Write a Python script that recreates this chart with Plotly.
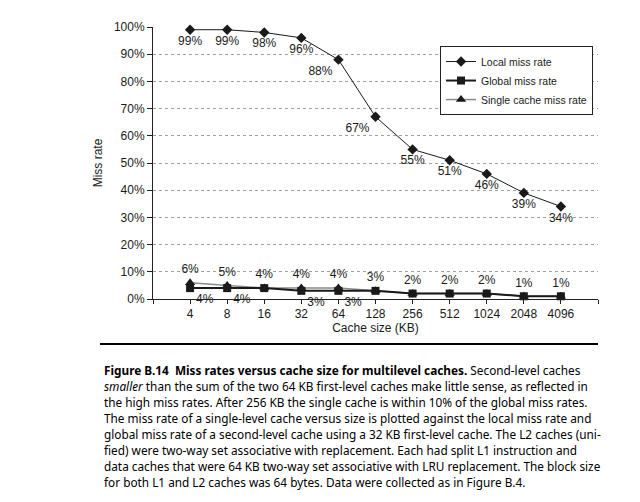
import plotly.graph_objects as go

cache_sizes = ["4", "8", "16", "32", "64", "128", "256", "512", "1024", "2048", "4096"]
local_miss = [99, 99, 98, 96, 88, 67, 55, 51, 46, 39, 34]
global_miss = [4, 4, 4, 3, 3, 3, 2, 2, 2, 1, 1]
single_miss = [6, 5, 4, 4, 4, 3, 2, 2, 2, 1, 1]
global_labels_shown = [True, True, False, True, True, False, False, False, False, False, False]
y_ticks = [0, 10, 20, 30, 40, 50, 60, 70, 80, 90, 100]

caption_lines = [
    "<b>Figure B.14  Miss rates versus cache size for multilevel caches.</b> Second-level caches",
    "<i>smaller</i> than the sum of the two 64 KB first-level caches make little sense, as reflected in",
    "the high miss rates. After 256 KB the single cache is within 10% of the global miss rates.",
    "The miss rate of a single-level cache versus size is plotted against the local miss rate and",
    "global miss rate of a second-level cache using a 32 KB first-level cache. The L2 caches (uni-",
    "fied) were two-way set associative with replacement. Each had split L1 instruction and",
    "data caches that were 64 KB two-way set associative with LRU replacement. The block size",
    "for both L1 and L2 caches was 64 bytes. Data were collected as in Figure B.4.",
]

idx = list(range(len(cache_sizes)))
FONT = "Liberation Sans, Arial, sans-serif"
INK = "#1a1a1a"

local_pos = ["bottom center"] * 4 + ["bottom left", "bottom left"] + ["bottom center"] * 5

fig = go.Figure()
fig.add_trace(go.Scatter(
    x=idx, y=single_miss, name="Single cache miss rate", mode="lines+markers+text",
    line=dict(color="#8a8a8a", width=1.5),
    marker=dict(symbol="triangle-up", size=9, color=INK),
    text=[f"{v}%" for v in single_miss], textposition="top center",
    textfont=dict(family=FONT, size=12, color=INK), cliponaxis=False,
))
fig.add_trace(go.Scatter(
    x=idx, y=global_miss, name="Global miss rate", mode="lines+markers+text",
    line=dict(color=INK, width=2),
    marker=dict(symbol="square", size=8, color=INK),
    text=[f"{v}%" if s else "" for v, s in zip(global_miss, global_labels_shown)],
    textposition="bottom right",
    textfont=dict(family=FONT, size=12, color=INK), cliponaxis=False,
))
fig.add_trace(go.Scatter(
    x=idx, y=local_miss, name="Local miss rate", mode="lines+markers+text",
    line=dict(color=INK, width=1),
    marker=dict(symbol="diamond", size=8, color=INK),
    text=[f"{v}%" for v in local_miss], textposition=local_pos,
    textfont=dict(family=FONT, size=12, color=INK), cliponaxis=False,
))

# the page body has an 8px default margin, so margins are reduced by 8px
fig.update_layout(
    width=640, height=502,
    margin=dict(l=145, r=50, t=19, b=211),
    paper_bgcolor="white", plot_bgcolor="white",
    font=dict(family=FONT, size=12, color=INK),
    showlegend=True,
    legend=dict(
        x=0.645, y=0.93, xanchor="left", yanchor="top",
        bordercolor="#222", borderwidth=1, bgcolor="white",
        font=dict(family=FONT, size=10.5, color=INK),
        traceorder="reversed", tracegroupgap=0,
    ),
)
fig.update_xaxes(
    range=[-1, 11],
    tickmode="array",
    tickvals=[-1] + idx + [11],
    ticktext=[""] + cache_sizes + [""],
    ticks="outside", ticklen=4, tickcolor="#222",
    showline=True, linecolor="#222", linewidth=1,
    showgrid=False, zeroline=False,
    tickfont=dict(family=FONT, size=12, color=INK),
    title=dict(text="Cache size (KB)", font=dict(family=FONT, size=12, color=INK), standoff=2),
)
fig.update_yaxes(
    range=[0, 100],
    tickmode="array", tickvals=y_ticks, ticktext=[f"{v}%" for v in y_ticks],
    ticks="outside", ticklen=5, tickcolor="#222",
    showline=True, linecolor="#222", linewidth=1,
    showgrid=True, gridcolor="#a0a0a0", griddash="dot", gridwidth=1,
    zeroline=False,
    tickfont=dict(family=FONT, size=12, color=INK),
    title=dict(text="Miss rate", font=dict(family=FONT, size=12, color=INK), standoff=8),
)

# caption rule
fig.add_shape(type="line", xref="paper", yref="paper",
              x0=(100 - 153) / 445, x1=(598 - 153) / 445,
              y0=(299 - 344) / 272, y1=(299 - 344) / 272,
              line=dict(color="black", width=2))

for i, line in enumerate(caption_lines):
    y_px = 370 + 16 * i
    fig.add_annotation(
        text=line, xref="paper", yref="paper",
        x=(102 - 153) / 445, y=(299 - y_px) / 272,
        xanchor="left", yanchor="middle", showarrow=False, align="left",
        font=dict(family="Noto Sans, sans-serif", size=11.8, color="black"),
    )

fig.write_html("out.html")
